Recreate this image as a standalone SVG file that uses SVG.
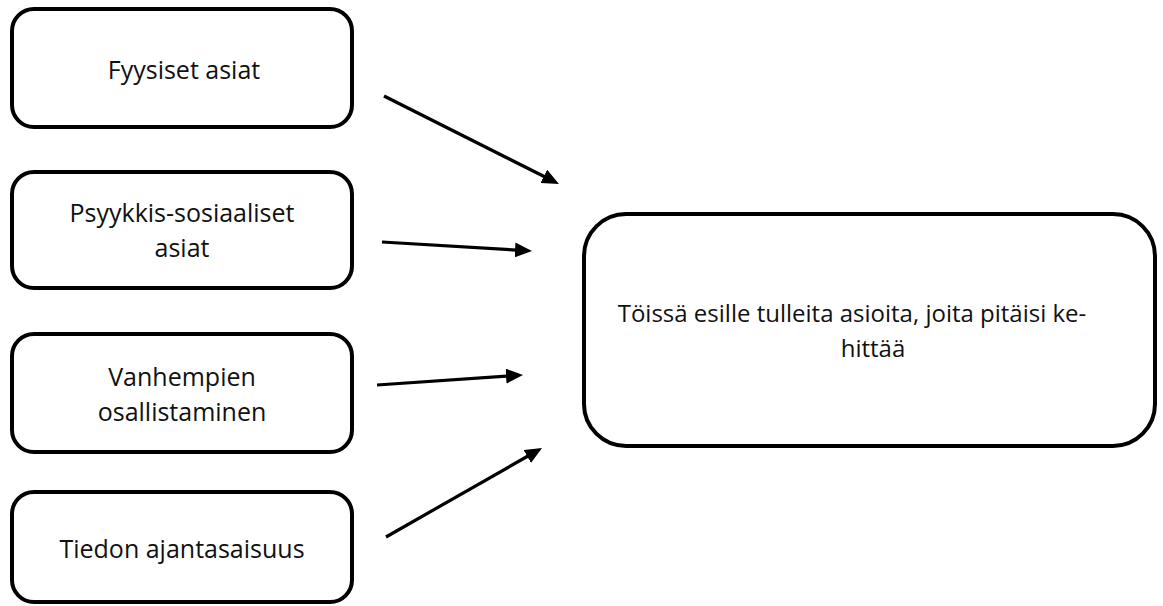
<svg xmlns="http://www.w3.org/2000/svg" width="1163" height="606" viewBox="0 0 1163 606">
<defs>
<style>
.box{fill:#fff;stroke:#000;stroke-width:4}
.t{font-family:"Open Sans","Liberation Sans",sans-serif;font-size:25px;fill:#111;text-anchor:middle}
.big{font-size:24px}
.c{stroke:#000;stroke-width:3.2;fill:none}
</style>
<marker id="ah" markerUnits="userSpaceOnUse" markerWidth="17" markerHeight="15" refX="11" refY="7.5" orient="auto">
<path d="M0,0 L17,7.5 L0,15 z" fill="#000"/>
</marker>
</defs>
<rect width="1163" height="606" fill="#fff"/>
<g id="n1"><rect class="box" x="12" y="9" width="340" height="118" rx="22"/><text class="t" x="184" y="79">Fyysiset asiat</text></g>
<g id="n2"><rect class="box" x="12" y="172" width="340" height="116" rx="22"/><text class="t" x="182" y="222">Psyykkis-sosiaaliset</text><text class="t" x="182" y="257">asiat</text></g>
<g id="n3"><rect class="box" x="12" y="334" width="340" height="118" rx="22"/><text class="t" x="182" y="386">Vanhempien</text><text class="t" x="182" y="421">osallistaminen</text></g>
<g id="n4"><rect class="box" x="12" y="492" width="340" height="110" rx="22"/><text class="t" x="182" y="558">Tiedon ajantasaisuus</text></g>
<g id="n5"><rect class="box" x="584" y="214" width="571" height="232" rx="42"/><text class="t big" x="852" y="322">Töissä esille tulleita asioita, joita pitäisi ke-</text><text class="t big" x="873" y="357">hittää</text></g>
<g id="connectors">
<line class="c" x1="384" y1="96" x2="553.6" y2="181.3" marker-end="url(#ah)"/>
<line class="c" x1="382" y1="242" x2="526" y2="250.6" marker-end="url(#ah)"/>
<line class="c" x1="377" y1="385" x2="517" y2="375.4" marker-end="url(#ah)"/>
<line class="c" x1="386" y1="537" x2="536.8" y2="451" marker-end="url(#ah)"/>
</g>
</svg>
